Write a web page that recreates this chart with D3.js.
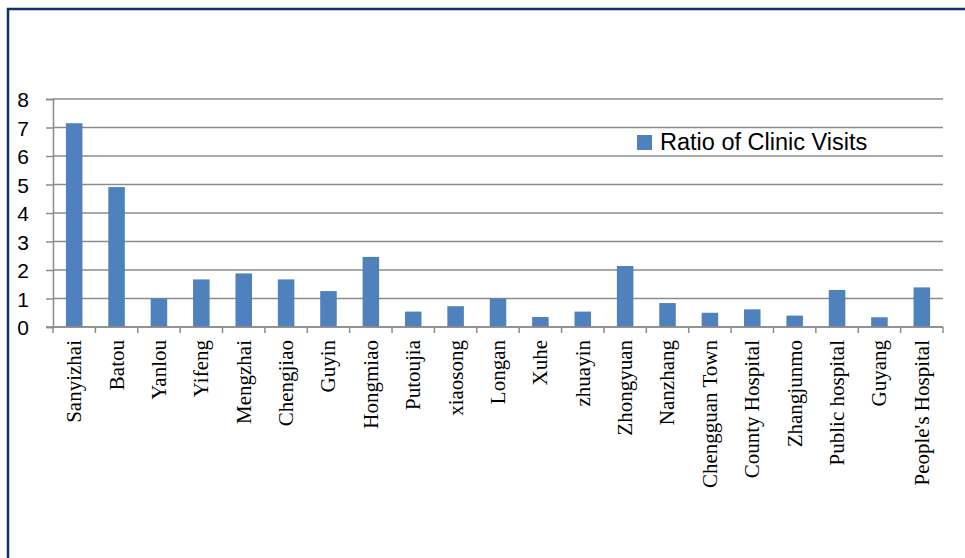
<!DOCTYPE html>
<html>
<head>
<meta charset="utf-8">
<script src="https://cdn.jsdelivr.net/npm/d3@7"></script>
<style>
  body { margin: 0; background: #fff; }
  svg { display: block; }
  .y-axis text { font-family: "Liberation Sans", Arial, sans-serif; font-size: 21px; fill: #000; }
  .x-label { font-family: "Liberation Serif", "Times New Roman", serif; font-size: 21px; fill: #000; }
  .legend-text { font-family: "Liberation Sans", Arial, sans-serif; font-size: 23.5px; fill: #000; }
</style>
</head>
<body>
<svg id="chart"></svg>
<script>
// categories and values
const places = ["Sanyizhai", "Batou", "Yanlou", "Yifeng", "Mengzhai", "Chengjiao", "Guyin",
  "Hongmiao", "Putoujia", "xiaosong", "Longan", "Xuhe", "zhuayin", "Zhongyuan", "Nanzhang",
  "Chengguan Town", "County Hospital", "Zhangjunmo", "Public hospital", "Guyang", "People's Hospital"];
const ratios = [7.15, 4.91, 1.0, 1.67, 1.88, 1.67, 1.26, 2.46, 0.54, 0.73, 1.0, 0.35, 0.54,
  2.14, 0.84, 0.5, 0.62, 0.4, 1.3, 0.34, 1.39];
const yTicks = [0, 1, 2, 3, 4, 5, 6, 7, 8];
const seriesName = "Ratio of Clinic Visits";

const data = places.map((p, i) => ({place: p, value: ratios[i]}));

const width = 965, height = 558;
const margin = {top: 99, right: 22, bottom: 231, left: 53};
const innerW = width - margin.left - margin.right;
const innerH = height - margin.top - margin.bottom;

const svg = d3.select("#chart")
    .attr("width", width)
    .attr("height", height);

// frame (only top and left edges show in the picture)
svg.append("path")
    .attr("d", `M8,${height} L8,9 L${width},9`)
    .attr("fill", "none")
    .attr("stroke", "#12306e")
    .attr("stroke-width", 2.5);

const chart = svg.append("g")
    .attr("transform", `translate(${margin.left},${margin.top})`);

const xScale = d3.scaleBand()
    .domain(places)
    .range([0, innerW])
    .paddingInner(0.61)
    .paddingOuter(0.305);

const yScale = d3.scaleLinear()
    .domain([0, 8])
    .range([innerH, 0]);

// gridlines
chart.append("g")
    .selectAll("line")
    .data(yTicks)
    .join("line")
    .attr("x1", 0)
    .attr("x2", innerW)
    .attr("y1", d => yScale(d))
    .attr("y2", d => yScale(d))
    .attr("stroke", "#8c8c8c")
    .attr("stroke-width", 1.5);

// y axis
const yAxisG = chart.append("g")
    .attr("class", "axis y-axis")
    .call(d3.axisLeft(yScale).tickValues(yTicks).tickSize(7).tickPadding(17).tickFormat(d3.format("d")));
yAxisG.select(".domain").attr("stroke", "#8c8c8c").attr("stroke-width", 1.5);
yAxisG.selectAll(".tick line").attr("stroke", "#8c8c8c").attr("stroke-width", 1.5);
yAxisG.selectAll(".tick text").attr("dy", "0.36em");

// bars
chart.append("g")
    .selectAll("rect")
    .data(data)
    .join("rect")
    .attr("x", d => xScale(d.place))
    .attr("y", d => yScale(d.value))
    .attr("width", xScale.bandwidth())
    .attr("height", d => innerH - yScale(d.value))
    .attr("fill", "#4f81bd");

// x axis line and category tick marks between bands
const step = xScale.step();
const bounds = d3.range(places.length + 1).map(i => i * step);
chart.append("line")
    .attr("x1", -7)
    .attr("x2", innerW)
    .attr("y1", innerH)
    .attr("y2", innerH)
    .attr("stroke", "#8c8c8c")
    .attr("stroke-width", 1.5);
chart.append("g")
    .selectAll("line")
    .data(bounds)
    .join("line")
    .attr("x1", d => d)
    .attr("x2", d => d)
    .attr("y1", innerH)
    .attr("y2", innerH + 6)
    .attr("stroke", "#8c8c8c")
    .attr("stroke-width", 1.5);

// rotated category labels
chart.append("g")
    .selectAll("text")
    .data(places)
    .join("text")
    .attr("class", "x-label")
    .attr("text-anchor", "end")
    .attr("dy", "0.33em")
    .attr("transform", d => `translate(${xScale(d) + xScale.bandwidth() / 2},${innerH + 13}) rotate(-90)`)
    .text(d => d);

// legend
const legend = svg.append("g")
    .attr("transform", "translate(637,135)");
legend.append("rect")
    .attr("width", 15)
    .attr("height", 15)
    .attr("fill", "#4f81bd");
legend.append("text")
    .attr("class", "legend-text")
    .attr("x", 23)
    .attr("y", 15)
    .text(seriesName);
</script>
</body>
</html>
